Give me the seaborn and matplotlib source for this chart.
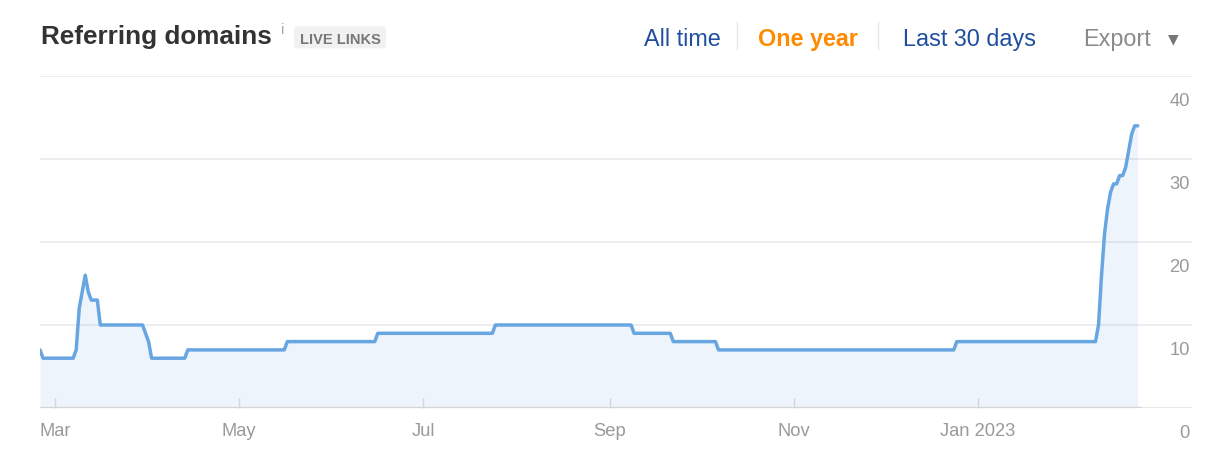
import matplotlib
matplotlib.use("Agg")
import matplotlib.pyplot as plt
from matplotlib.patches import FancyBboxPatch
from matplotlib.lines import Line2D
from matplotlib.transforms import Affine2D, ScaledTranslation
import pandas as pd
import seaborn as sns

# ---------------- data ----------------
start_date = "2022-02-24"
day_offsets = [0, 1, 11, 12, 13, 14, 15, 16, 17, 19, 20, 34, 35, 36, 37, 48, 49,
               81, 82, 111, 112, 150, 151, 196, 197, 209, 210, 224, 225, 303, 304,
               350, 351, 352, 353, 354, 355, 356, 357, 358, 359, 360, 361, 362, 363, 364]
domains = [7, 6, 6, 7, 12, 14, 16, 14, 13, 13, 10, 10, 9, 8, 6, 6, 7,
           7, 8, 8, 9, 9, 10, 10, 9, 9, 8, 8, 7, 7, 8,
           8, 10, 16, 21, 24, 26, 27, 27, 28, 28, 29, 31, 33, 34, 34]
x_tick_dates = ["2022-03-01", "2022-05-01", "2022-07-01", "2022-09-01",
                "2022-11-01", "2023-01-01"]
x_tick_labels = ["Mar", "May", "Jul", "Sep", "Nov", "Jan 2023"]
y_ticks = [0, 10, 20, 30, 40]
range_links = ["All time", "One year", "Last 30 days"]

# ---------------- figure ----------------
sns.set_theme(style="white")
plt.rcParams["font.family"] = ["Liberation Sans", "DejaVu Sans"]

W, H = 1226, 456
fig = plt.figure(figsize=(W / 100, H / 100), dpi=100)
fig.patch.set_facecolor("white")
ax = fig.add_axes([40 / W, 47 / H, 1152 / W, 332 / H])

start = pd.Timestamp(start_date)
dates = start + pd.to_timedelta(day_offsets, unit="D")
df = pd.DataFrame({"date": dates, "domains": domains})

ax.set_xlim(start, start + pd.Timedelta(days=382))
ax.set_ylim(0, 40)

for y in y_ticks[1:]:
    ax.axhline(y, color="#e8e8e8", lw=1.1, zorder=0)
ax.axhline(0, color="#e8e8e8", lw=1.3, zorder=0)
ax.hlines(0, start, start + pd.Timedelta(days=365.5), color="#d5d5d5", lw=1.6, zorder=4)

ax.fill_between(df["date"], df["domains"], 0, color="#4a90e2", alpha=0.09, lw=0, zorder=1)
sns.lineplot(data=df, x="date", y="domains", ax=ax, color="#68a6e2",
             linewidth=2.5, zorder=3)

for s in ax.spines.values():
    s.set_visible(False)
ax.set_xlabel("")
ax.set_ylabel("")

ax.set_xticks(pd.to_datetime(x_tick_dates))
ax.set_xticklabels(x_tick_labels)
ax.tick_params(axis="x", bottom=True, direction="in", length=7.2, width=1,
               color="#dddddd", pad=10, labelsize=13.2, labelcolor="#9a9a9a")

ax.set_yticks(y_ticks)
ax.yaxis.tick_right()
ax.tick_params(axis="y", left=False, right=False, length=0, pad=0,
               labelsize=13.2, labelcolor="#9a9a9a")
off = ScaledTranslation(-2 / 100, -23 / 100, fig.dpi_scale_trans)
for lab in ax.yaxis.get_ticklabels():
    lab.set_ha("right")
    lab.set_transform(lab.get_transform() + off)

# ---------------- header ----------------
pxT = Affine2D().scale(1 / W, -1 / H).translate(0, 1) + fig.transFigure

fig.text(41, 44.3, "Referring domains", transform=pxT, fontsize=18.8,
         weight="bold", color="#333333", va="baseline", ha="left")
fig.text(281, 34, "i", transform=pxT, fontsize=10.5, color="#a5a5a5",
         va="baseline", ha="left")

badge = FancyBboxPatch((294, 27.3), 92, 22, boxstyle="round,pad=0,rounding_size=3",
                       transform=pxT, fc="#f1f1f1", ec="none")
fig.add_artist(badge)
fig.text(340, 44.3, "LIVE LINKS", transform=pxT, fontsize=10.5, weight="bold",
         color="#777777", va="baseline", ha="center")

fig.text(644, 45.7, range_links[0], transform=pxT, fontsize=16.8,
         color="#1f4e9e", va="baseline", ha="left")
fig.text(758, 45.7, range_links[1], transform=pxT, fontsize=16.8, weight="bold",
         color="#ff8a00", va="baseline", ha="left")
fig.text(903, 45.7, range_links[2], transform=pxT, fontsize=16.8,
         color="#1f4e9e", va="baseline", ha="left")
for sx in (737, 878):
    fig.add_artist(Line2D([sx, sx], [23, 50], transform=pxT, color="#e8e8e8", lw=1))
fig.text(1083, 45.7, "Export", transform=pxT, fontsize=16.8,
         color="#8a8a8a", va="baseline", ha="left")
fig.text(1173.5, 39, "▼", transform=pxT, fontsize=10, color="#777777",
         va="center", ha="center", family=["DejaVu Sans"])

fig.savefig("out.png", dpi=100)
